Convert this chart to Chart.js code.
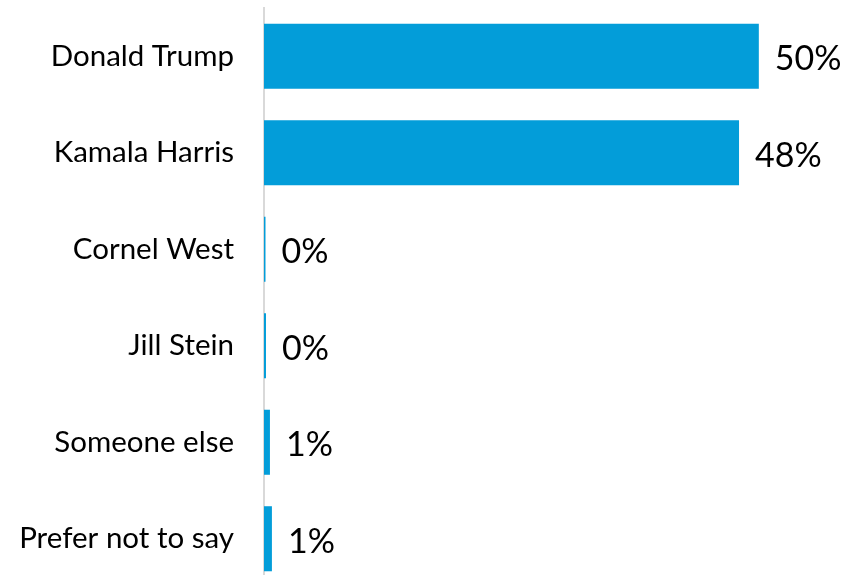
<!DOCTYPE html>
<html>
<head>
<meta charset="utf-8">
<script src="https://cdn.jsdelivr.net/npm/chart.js@4"></script>
<style>
  html, body { margin: 0; padding: 0; background: #fff; overflow: hidden; }
  canvas { display: block; }
</style>
</head>
<body>
<canvas id="voteChart" width="843" height="590"></canvas>
<script>
const candidates = ['Donald Trump', 'Kamala Harris', 'Cornel West', 'Jill Stein', 'Someone else', 'Prefer not to say'];
const shares = [50, 48, 0.15, 0.2, 0.6, 0.8];
const shareLabels = ['50%', '48%', '0%', '0%', '1%', '1%'];

// draws the % text right of each bar
const valueLabels = {
  id: 'valueLabels',
  afterDatasetsDraw(chart) {
    const ctx = chart.ctx;
    const meta = chart.getDatasetMeta(0);
    ctx.save();
    ctx.font = '34px Lato';
    ctx.fillStyle = '#000';
    ctx.textAlign = 'left';
    ctx.textBaseline = 'middle';
    meta.data.forEach((bar, i) => {
      ctx.fillText(shareLabels[i], bar.x + 16, bar.y + 3);
    });
    ctx.restore();
  }
};

window.addEventListener("DOMContentLoaded", () => {
  const ctx = document.getElementById('voteChart').getContext('2d');
  new Chart(ctx, {
    type: 'bar',
    data: {
      labels: candidates,
      datasets: [{
        data: shares,
        backgroundColor: '#039DD9',
        borderWidth: 0,
        categoryPercentage: 1,
        barPercentage: 0.674
      }]
    },
    options: {
      indexAxis: 'y',
      responsive: false,
      animation: false,
      layout: { padding: { top: 8, bottom: 3, left: 0, right: 5 } },
      plugins: {
        legend: { display: false },
        tooltip: { enabled: false }
      },
      scales: {
        x: {
          display: false,
          min: 0,
          max: 58
        },
        y: {
          afterFit(scale) {
            scale.width = 264;
            scale.paddingTop = 0;
            scale.paddingBottom = 0;
          },
          grid: { display: false, drawTicks: false },
          border: { display: true, color: '#d9d9d9', width: 2 },
          ticks: {
            padding: 30,
            color: '#000',
            font: { family: 'Lato', size: 29.5 }
          }
        }
      }
    },
    plugins: [valueLabels]
  });
});
</script>
</body>
</html>
